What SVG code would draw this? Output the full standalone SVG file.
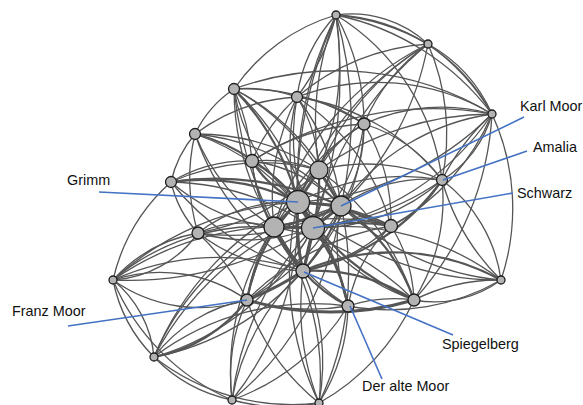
<svg xmlns="http://www.w3.org/2000/svg" width="583" height="405" viewBox="0 0 583 405">
<style>
.e{fill:none;stroke:#555;stroke-width:1.3}
.t2{stroke-width:2.2}
.t3{stroke-width:3}
.n{fill:#b3b3b3;stroke:#1e1e1e;stroke-width:1.3}
.c{stroke:#4472c4;stroke-width:1.6;fill:none}
.l{font-family:"Liberation Sans",Arial,sans-serif;font-size:14.4px;fill:#111}
</style>
<rect width="583" height="405" fill="#fff"/>
<g id="edges">
<path class="e" d="M336 15 A112 112 0 0 1 428 44"/>
<path class="e" d="M336 15 A225 225 0 0 1 428 44"/>
<path class="e" d="M336 15 A262 262 0 0 1 492 114"/>
<path class="e" d="M336 15 A188 188 0 0 1 492 114"/>
<path class="e" d="M336 15 A150 150 0 0 0 297 97"/>
<path class="e" d="M336 15 A225 225 0 0 1 297 97"/>
<path class="e" d="M336 15 A188 188 0 0 0 234 89"/>
<path class="e" d="M336 15 A225 225 0 0 1 364 124"/>
<path class="e" d="M336 15 A300 300 0 0 0 319 170"/>
<path class="e" d="M336 15 A300 300 0 0 1 319 170"/>
<path class="e" d="M336 15 A375 375 0 0 0 298 202"/>
<path class="e" d="M336 15 A375 375 0 0 1 341 206"/>
<path class="e" d="M336 15 A450 450 0 0 1 313 228"/>
<path class="e" d="M336 15 A225 225 0 0 1 442 180"/>
<path class="e" d="M336 15 A450 450 0 0 0 303 271"/>
<path class="e" d="M428 44 A150 150 0 0 1 492 114"/>
<path class="e" d="M428 44 A225 225 0 0 1 492 114"/>
<path class="e" d="M428 44 A188 188 0 0 0 364 124"/>
<path class="e" d="M428 44 A225 225 0 0 0 297 97"/>
<path class="e" d="M428 44 A262 262 0 0 0 319 170"/>
<path class="e" d="M428 44 A300 300 0 0 0 298 202"/>
<path class="e" d="M428 44 A300 300 0 0 1 341 206"/>
<path class="e" d="M428 44 A225 225 0 0 1 442 180"/>
<path class="e" d="M428 44 A338 338 0 0 0 313 228"/>
<path class="e" d="M428 44 A300 300 0 0 0 274 227"/>
<path class="e" d="M492 114 A112 112 0 0 1 442 180"/>
<path class="e" d="M492 114 A225 225 0 0 0 442 180"/>
<path class="e" d="M492 114 A188 188 0 0 0 364 124"/>
<path class="e" d="M492 114 A300 300 0 0 0 234 89"/>
<path class="e" d="M492 114 A225 225 0 0 0 297 97"/>
<path class="e" d="M492 114 A225 225 0 0 0 341 206"/>
<path class="e" d="M492 114 A262 262 0 0 1 313 228"/>
<path class="e" d="M492 114 A225 225 0 0 1 391 226"/>
<path class="e" d="M492 114 A300 300 0 0 1 414 300"/>
<path class="e" d="M492 114 A300 300 0 0 0 319 170"/>
<path class="e" d="M492 114 A300 300 0 0 1 298 202"/>
<path class="e" d="M492 114 A338 338 0 0 0 252 161"/>
<path class="e" d="M492 114 A225 225 0 0 1 501 280"/>
<path class="e" d="M234 89 A150 150 0 0 1 297 97"/>
<path class="e" d="M234 89 A112 112 0 0 0 195 134"/>
<path class="e" d="M234 89 A225 225 0 0 1 252 161"/>
<path class="e" d="M234 89 A225 225 0 0 1 319 170"/>
<path class="e t2" d="M234 89 A262 262 0 0 1 298 202"/>
<path class="e" d="M234 89 A188 188 0 0 0 298 202"/>
<path class="e" d="M234 89 A225 225 0 0 1 341 206"/>
<path class="e" d="M234 89 A262 262 0 0 0 274 227"/>
<path class="e" d="M234 89 A262 262 0 0 1 313 228"/>
<path class="e" d="M234 89 A375 375 0 0 0 303 271"/>
<path class="e" d="M234 89 A225 225 0 0 1 364 124"/>
<path class="e" d="M297 97 A150 150 0 0 1 364 124"/>
<path class="e" d="M297 97 A188 188 0 0 0 195 134"/>
<path class="e" d="M297 97 A188 188 0 0 0 252 161"/>
<path class="e" d="M297 97 A150 150 0 0 1 319 170"/>
<path class="e" d="M297 97 A188 188 0 0 0 298 202"/>
<path class="e" d="M297 97 A225 225 0 0 1 341 206"/>
<path class="e" d="M297 97 A225 225 0 0 0 313 228"/>
<path class="e" d="M297 97 A225 225 0 0 0 274 227"/>
<path class="e" d="M297 97 A225 225 0 0 1 442 180"/>
<path class="e" d="M297 97 A225 225 0 0 1 391 226"/>
<path class="e" d="M364 124 A112 112 0 0 0 319 170"/>
<path class="e" d="M364 124 A150 150 0 0 1 341 206"/>
<path class="e" d="M364 124 A150 150 0 0 0 298 202"/>
<path class="e" d="M364 124 A188 188 0 0 1 313 228"/>
<path class="e" d="M364 124 A150 150 0 0 1 442 180"/>
<path class="e" d="M364 124 A225 225 0 0 0 274 227"/>
<path class="e" d="M364 124 A225 225 0 0 1 303 271"/>
<path class="e" d="M364 124 A188 188 0 0 1 391 226"/>
<path class="e" d="M364 124 A225 225 0 0 0 252 161"/>
<path class="e" d="M195 134 A112 112 0 0 0 171 182"/>
<path class="e" d="M195 134 A150 150 0 0 1 252 161"/>
<path class="e" d="M195 134 A188 188 0 0 1 298 202"/>
<path class="e" d="M195 134 A225 225 0 0 1 341 206"/>
<path class="e" d="M195 134 A188 188 0 0 0 274 227"/>
<path class="e" d="M195 134 A225 225 0 0 1 313 228"/>
<path class="e" d="M195 134 A225 225 0 0 1 319 170"/>
<path class="e" d="M195 134 A188 188 0 0 0 198 233"/>
<path class="e" d="M195 134 A262 262 0 0 0 303 271"/>
<path class="e" d="M252 161 A150 150 0 0 1 319 170"/>
<path class="e t2" d="M252 161 A112 112 0 0 0 298 202"/>
<path class="e" d="M252 161 A150 150 0 0 1 341 206"/>
<path class="e" d="M252 161 A150 150 0 0 0 274 227"/>
<path class="e t2" d="M252 161 A150 150 0 0 1 313 228"/>
<path class="e" d="M252 161 A150 150 0 0 0 171 182"/>
<path class="e" d="M252 161 A188 188 0 0 0 303 271"/>
<path class="e t2" d="M171 182 A225 225 0 0 1 298 202"/>
<path class="e t2" d="M171 182 A300 300 0 0 1 341 206"/>
<path class="e" d="M171 182 A188 188 0 0 0 274 227"/>
<path class="e" d="M171 182 A262 262 0 0 1 313 228"/>
<path class="e" d="M171 182 A112 112 0 0 0 198 233"/>
<path class="e" d="M171 182 A225 225 0 0 1 319 170"/>
<path class="e" d="M171 182 A188 188 0 0 0 113 280"/>
<path class="e" d="M171 182 A262 262 0 0 0 303 271"/>
<path class="e" d="M442 180 A150 150 0 0 0 341 206"/>
<path class="e" d="M442 180 A188 188 0 0 1 313 228"/>
<path class="e" d="M442 180 A225 225 0 0 0 298 202"/>
<path class="e" d="M442 180 A112 112 0 0 1 391 226"/>
<path class="e" d="M442 180 A188 188 0 0 1 414 300"/>
<path class="e" d="M442 180 A150 150 0 0 1 501 280"/>
<path class="e" d="M442 180 A225 225 0 0 0 501 280"/>
<path class="e" d="M442 180 A188 188 0 0 0 319 170"/>
<path class="e t2" d="M442 180 A225 225 0 0 1 303 271"/>
<path class="e" d="M442 180 A262 262 0 0 1 274 227"/>
<path class="e t3" d="M298 202 L341 206"/>
<path class="e t3" d="M298 202 L274 227"/>
<path class="e t3" d="M298 202 L313 228"/>
<path class="e t3" d="M341 206 L313 228"/>
<path class="e t3" d="M274 227 L313 228"/>
<path class="e t3" d="M298 202 A200 200 0 0 0 303 271"/>
<path class="e t3" d="M313 228 A300 300 0 0 1 303 271"/>
<path class="e t3" d="M319 170 L298 202"/>
<path class="e t3" d="M319 170 L341 206"/>
<path class="e t2" d="M319 170 A200 200 0 0 1 313 228"/>
<path class="e t3" d="M274 227 A150 150 0 0 0 303 271"/>
<path class="e t2" d="M341 206 A200 200 0 0 1 303 271"/>
<path class="e t2" d="M341 206 A250 250 0 0 1 274 227"/>
<path class="e t2" d="M298 202 A225 225 0 0 1 391 226"/>
<path class="e t2" d="M341 206 A225 225 0 0 0 391 226"/>
<path class="e t2" d="M313 228 A188 188 0 0 1 391 226"/>
<path class="e" d="M391 226 A188 188 0 0 1 303 271"/>
<path class="e" d="M391 226 A150 150 0 0 0 348 306"/>
<path class="e" d="M391 226 A150 150 0 0 1 414 300"/>
<path class="e" d="M391 226 A225 225 0 0 0 274 227"/>
<path class="e" d="M391 226 A262 262 0 0 0 247 300"/>
<path class="e" d="M198 233 A150 150 0 0 1 298 202"/>
<path class="e" d="M198 233 A112 112 0 0 1 274 227"/>
<path class="e" d="M198 233 A188 188 0 0 0 313 228"/>
<path class="e" d="M198 233 A225 225 0 0 0 341 206"/>
<path class="e" d="M198 233 A188 188 0 0 0 303 271"/>
<path class="e" d="M198 233 A150 150 0 0 0 113 280"/>
<path class="e" d="M198 233 A112 112 0 0 1 113 280"/>
<path class="e" d="M198 233 A225 225 0 0 1 247 300"/>
<path class="e" d="M198 233 A225 225 0 0 0 319 170"/>
<path class="e t3" d="M303 271 A300 300 0 0 1 247 300"/>
<path class="e t2" d="M303 271 A150 150 0 0 0 348 306"/>
<path class="e t2" d="M303 271 A188 188 0 0 1 414 300"/>
<path class="e" d="M303 271 A262 262 0 0 0 113 280"/>
<path class="e" d="M303 271 A262 262 0 0 1 154 357"/>
<path class="e" d="M303 271 A225 225 0 0 0 232 400"/>
<path class="e" d="M303 271 A225 225 0 0 1 319 403"/>
<path class="e t2" d="M303 271 A225 225 0 0 1 501 280"/>
<path class="e" d="M247 300 A225 225 0 0 0 348 306"/>
<path class="e t3" d="M247 300 A300 300 0 0 0 414 300"/>
<path class="e t2" d="M247 300 A188 188 0 0 1 298 202"/>
<path class="e" d="M247 300 A188 188 0 0 0 313 228"/>
<path class="e" d="M247 300 A188 188 0 0 1 274 227"/>
<path class="e" d="M247 300 A225 225 0 0 0 341 206"/>
<path class="e" d="M247 300 A150 150 0 0 1 113 280"/>
<path class="e" d="M247 300 A150 150 0 0 0 113 280"/>
<path class="e t2" d="M247 300 A150 150 0 0 1 154 357"/>
<path class="e" d="M247 300 A150 150 0 0 0 154 357"/>
<path class="e" d="M247 300 A188 188 0 0 0 232 400"/>
<path class="e" d="M247 300 A225 225 0 0 0 319 403"/>
<path class="e" d="M247 300 A262 262 0 0 1 319 170"/>
<path class="e" d="M348 306 A150 150 0 0 1 414 300"/>
<path class="e" d="M348 306 A188 188 0 0 1 319 403"/>
<path class="e" d="M348 306 A225 225 0 0 1 232 400"/>
<path class="e t2" d="M348 306 A225 225 0 0 0 298 202"/>
<path class="e" d="M348 306 A188 188 0 0 1 341 206"/>
<path class="e t2" d="M348 306 A188 188 0 0 0 313 228"/>
<path class="e" d="M348 306 A225 225 0 0 1 274 227"/>
<path class="e" d="M348 306 A225 225 0 0 0 501 280"/>
<path class="e" d="M348 306 A262 262 0 0 0 154 357"/>
<path class="e" d="M414 300 A112 112 0 0 0 501 280"/>
<path class="e" d="M414 300 A188 188 0 0 1 501 280"/>
<path class="e t2" d="M414 300 A188 188 0 0 0 341 206"/>
<path class="e" d="M414 300 A225 225 0 0 1 313 228"/>
<path class="e t2" d="M414 300 A262 262 0 0 1 298 202"/>
<path class="e" d="M414 300 A262 262 0 0 0 274 227"/>
<path class="e" d="M414 300 A262 262 0 0 0 319 170"/>
<path class="e" d="M501 280 A262 262 0 0 1 341 206"/>
<path class="e" d="M501 280 A262 262 0 0 0 313 228"/>
<path class="e" d="M501 280 A300 300 0 0 1 298 202"/>
<path class="e" d="M113 280 A150 150 0 0 0 154 357"/>
<path class="e" d="M113 280 A112 112 0 0 1 154 357"/>
<path class="e" d="M113 280 A225 225 0 0 0 232 400"/>
<path class="e" d="M113 280 A300 300 0 0 1 298 202"/>
<path class="e" d="M113 280 A225 225 0 0 1 274 227"/>
<path class="e" d="M113 280 A300 300 0 0 1 313 228"/>
<path class="e" d="M113 280 A338 338 0 0 0 341 206"/>
<path class="e" d="M154 357 A150 150 0 0 0 232 400"/>
<path class="e" d="M154 357 A225 225 0 0 0 319 403"/>
<path class="e" d="M154 357 A300 300 0 0 1 298 202"/>
<path class="e" d="M154 357 A262 262 0 0 1 274 227"/>
<path class="e" d="M154 357 A262 262 0 0 0 313 228"/>
<path class="e" d="M154 357 A300 300 0 0 1 341 206"/>
<path class="e" d="M232 400 A188 188 0 0 0 319 403"/>
<path class="e" d="M232 400 A300 300 0 0 0 298 202"/>
<path class="e" d="M232 400 A300 300 0 0 1 313 228"/>
<path class="e" d="M232 400 A262 262 0 0 1 274 227"/>
<path class="e" d="M232 400 A300 300 0 0 0 341 206"/>
<path class="e" d="M319 403 A300 300 0 0 1 298 202"/>
<path class="e" d="M319 403 A300 300 0 0 0 341 206"/>
<path class="e" d="M319 403 A262 262 0 0 1 313 228"/>
<path class="e" d="M319 403 A262 262 0 0 0 274 227"/>
<path class="e" d="M319 403 A225 225 0 0 0 414 300"/>
</g>
<g id="nodes">
<g id="node-a"><circle class="n" cx="336" cy="15" r="4"/></g>
<g id="node-b"><circle class="n" cx="428" cy="44" r="4"/></g>
<g id="node-c"><circle class="n" cx="492" cy="114" r="4"/></g>
<g id="node-d"><circle class="n" cx="234" cy="89" r="5.5"/></g>
<g id="node-e"><circle class="n" cx="297" cy="97" r="5.5"/></g>
<g id="node-f"><circle class="n" cx="364" cy="124" r="6"/></g>
<g id="node-g"><circle class="n" cx="195" cy="134" r="5.5"/></g>
<g id="node-h"><circle class="n" cx="252" cy="161" r="6.5"/></g>
<g id="node-i"><circle class="n" cx="319" cy="170" r="9"/></g>
<g id="node-j"><circle class="n" cx="171" cy="182" r="5.5"/></g>
<g id="node-amalia"><circle class="n" cx="442" cy="180" r="5.5"/></g>
<g id="node-grimm"><circle class="n" cx="298" cy="202" r="11.5"/></g>
<g id="node-karl-moor"><circle class="n" cx="341" cy="206" r="10"/></g>
<g id="node-n"><circle class="n" cx="274" cy="227" r="10"/></g>
<g id="node-schwarz"><circle class="n" cx="313" cy="228" r="11.5"/></g>
<g id="node-p"><circle class="n" cx="391" cy="226" r="6.5"/></g>
<g id="node-q"><circle class="n" cx="198" cy="233" r="6"/></g>
<g id="node-spiegelberg"><circle class="n" cx="303" cy="271" r="7"/></g>
<g id="node-franz-moor"><circle class="n" cx="247" cy="300" r="6"/></g>
<g id="node-der-alte-moor"><circle class="n" cx="348" cy="306" r="6"/></g>
<g id="node-u"><circle class="n" cx="414" cy="300" r="6"/></g>
<g id="node-v"><circle class="n" cx="501" cy="280" r="4"/></g>
<g id="node-w"><circle class="n" cx="113" cy="280" r="4"/></g>
<g id="node-x"><circle class="n" cx="154" cy="357" r="4"/></g>
<g id="node-y"><circle class="n" cx="232" cy="400" r="4"/></g>
<g id="node-z"><circle class="n" cx="319" cy="403" r="4"/></g>
</g>
<g id="callouts">
<line class="c" x1="524" y1="117" x2="341" y2="206"/>
<line class="c" x1="527" y1="151" x2="443" y2="180"/>
<line class="c" x1="513" y1="193" x2="313" y2="228"/>
<line class="c" x1="99" y1="192" x2="298" y2="202"/>
<line class="c" x1="68" y1="326" x2="247" y2="300"/>
<line class="c" x1="453" y1="335" x2="304" y2="272"/>
<line class="c" x1="382" y1="379" x2="350" y2="306"/>
</g>
<g id="labels">
<text class="l" x="520" y="111">Karl Moor</text>
<text class="l" x="533" y="152">Amalia</text>
<text class="l" x="517" y="198">Schwarz</text>
<text class="l" x="67" y="185">Grimm</text>
<text class="l" x="12" y="316">Franz Moor</text>
<text class="l" x="442" y="349">Spiegelberg</text>
<text class="l" x="362" y="391">Der alte Moor</text>
</g>
</svg>
